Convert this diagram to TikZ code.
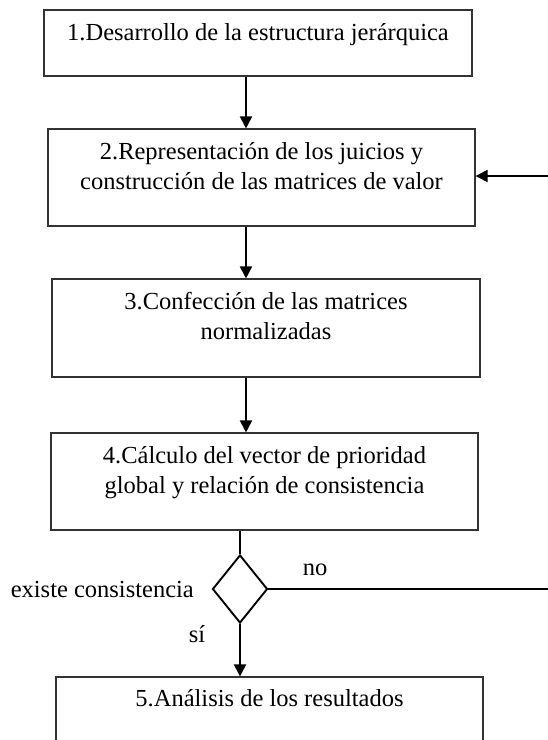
\documentclass[tikz,border=0pt]{standalone}
\usepackage{fontspec}
\setmainfont{Liberation Serif}
\usetikzlibrary{arrows.meta,shapes.geometric,calc}
\begin{document}
\begin{tikzpicture}[x=1pt,y=-1pt,
  box/.style={draw=black!80, line width=1.1pt, inner sep=0pt},
  arr/.style={line width=1.9pt, -{Triangle[length=12pt,width=12pt]}},
  ln/.style={line width=1.9pt},
  txt/.style={inner sep=0pt, anchor=base, font=\fontsize{24.5}{30}\selectfont}]
\useasboundingbox (0,0) rectangle (548,740);
\clip (0,0) rectangle (548,740);
\fill[white] (0,0) rectangle (548,740);
% boxes
\node[box, minimum width=428pt, minimum height=66pt] (b1) at (258,43) {};
\node[box, minimum width=427pt, minimum height=97pt] (b2) at (261.5,177.5) {};
\node[box, minimum width=428pt, minimum height=98pt] (b3) at (266,328) {};
\node[box, minimum width=427pt, minimum height=97pt] (b4) at (264.5,481.5) {};
\node[box, minimum width=427pt, minimum height=100pt] (b5) at (269.5,727) {};
\node[diamond, draw, ln, minimum width=55pt, minimum height=68pt, inner sep=0pt] (d) at (240,589) {};
% texts
\node[txt] (t1) at (258,40) {1.Desarrollo de la estructura jerárquica};
\node[txt] (t2) at (261.5,159) {\begin{tabular}[t]{@{}c@{}}2.Representación de los juicios y\\construcción de las matrices de valor\end{tabular}};
\node[txt] (t3) at (266,309) {\begin{tabular}[t]{@{}c@{}}3.Confección de las matrices\\normalizadas\end{tabular}};
\node[txt] (t4) at (264.5,463) {\begin{tabular}[t]{@{}c@{}}4.Cálculo del vector de prioridad\\global y relación de consistencia\end{tabular}};
\node[txt] (t5) at (269.5,706) {5.Análisis de los resultados};
\node[txt] (no) at (315,575) {no};
\node[txt, anchor=base east] (ec) at (194,597) {existe consistencia};
\node[txt] (si) at (197,642) {sí};
% connectors
\coordinate (u) at (246,0);
\coordinate (v) at (240,0);
\coordinate (r) at (548,176);
\coordinate (r2) at (548,0);
\draw[arr] (b1.south -| u) -- (b2.north -| u);
\draw[arr] (b2.south -| u) -- (b3.north -| u);
\draw[arr] (b3.south -| u) -- (b4.north -| u);
\draw[ln] (b4.south -| v) -- (d.north);
\draw[arr] (d.south) -- (b5.north -| v);
\draw[ln] (d.east) -- (d.east -| r2);
\draw[arr] (r) -- (r -| b2.east);
\end{tikzpicture}
\end{document}
